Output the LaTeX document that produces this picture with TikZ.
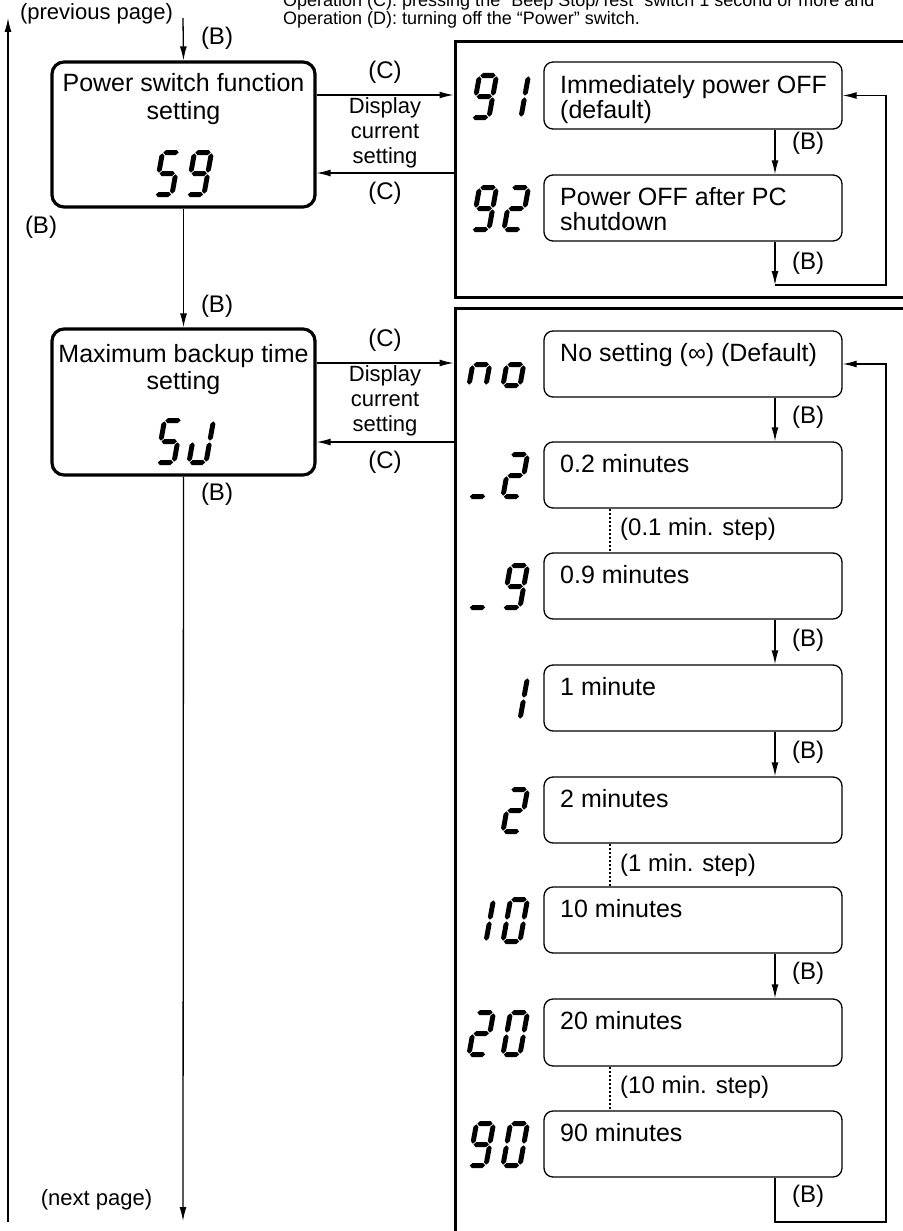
\documentclass[tikz,border=0pt]{standalone}
\usepackage{fontspec}
\setmainfont{Liberation Sans}
\usetikzlibrary{arrows.meta,calc}

% seven-segment segments (local coords, pt, y up)
\newcommand\ssega{(3.3,44.5) -- (5.8,47) -- (16.2,47) -- (18.7,44.5) -- (16.2,42) -- (5.8,42) -- cycle}
\newcommand\ssegg{(3.3,23.5) -- (5.8,26) -- (16.2,26) -- (18.7,23.5) -- (16.2,21) -- (5.8,21) -- cycle}
\newcommand\ssegd{(3.3,2.5) -- (5.8,5) -- (16.2,5) -- (18.7,2.5) -- (16.2,0) -- (5.8,0) -- cycle}
\newcommand\ssegf{(2.5,24.3) -- (5,26.8) -- (5,41.2) -- (2.5,43.7) -- (0,41.2) -- (0,26.8) -- cycle}
\newcommand\ssege{(2.5,3.3) -- (5,5.8) -- (5,20.2) -- (2.5,22.7) -- (0,20.2) -- (0,5.8) -- cycle}
\newcommand\ssegb{(19.5,24.3) -- (22,26.8) -- (22,41.2) -- (19.5,43.7) -- (17,41.2) -- (17,26.8) -- cycle}
\newcommand\ssegc{(19.5,3.3) -- (22,5.8) -- (22,20.2) -- (19.5,22.7) -- (17,20.2) -- (17,5.8) -- cycle}
\newcommand\ssdigit[3]{%
  \begin{scope}[shift={(#1,#2)},y=1pt,xslant=0.18]
    \foreach \s in {#3}{\fill \csname sseg\s\endcsname;}
  \end{scope}}

\tikzset{
  bigbox/.style={draw, line width=3.2pt, rounded corners=12pt, minimum width=263pt, inner sep=0},
  optbox/.style={draw, line width=1.3pt, rounded corners=9pt, minimum width=298pt, minimum height=66pt, inner sep=0},
  framebox/.style={draw, line width=3pt, inner sep=0},
  conn/.style={line width=1.3pt},
  arr/.style={conn, -{Latex[length=14pt,width=7pt]}},
  dotline/.style={line width=2pt, dash pattern=on 2pt off 2pt},
  boxtxt/.style={font=\fontsize{25}{27}\selectfont, inner sep=0, anchor=base west},
  ctxt/.style={font=\fontsize{25}{27}\selectfont, inner sep=0, anchor=base},
  lbl/.style={font=\fontsize{24}{26}\selectfont, inner sep=0},
  smalltxt/.style={font=\fontsize{22}{25}\selectfont, inner sep=0, align=center},
  toptxt/.style={font=\fontsize{18}{19}\selectfont, inner sep=0, anchor=base west},
}

\begin{document}
\begin{tikzpicture}[x=1pt,y=-1pt]
\useasboundingbox (0,0) rectangle (902,1231);

% top notes
\node[toptxt] (note1) at (283,7) {Operation (C): pressing the “Beep Stop/Test” switch 1 second or more and};
\node[toptxt] (note2) at (283,25) {Operation (D): turning off the “Power” switch.};

% frames
\node[framebox, minimum width=455pt, minimum height=255pt] (fr1) at (682.5,169.5) {};
\node[framebox, minimum width=455pt, minimum height=932pt] (fr2) at (682.5,774) {};

% left boxes
\node[bigbox, minimum height=145pt] (box1) at (183.5,134.5) {};
\node[bigbox, minimum height=146pt] (box2) at (183.5,402) {};
\node[ctxt] (box1a) at (183.5,92) {Power switch function};
\node[ctxt] (box1b) at (183.5,119) {setting};
\node[ctxt] (box2a) at (183.5,362) {Maximum backup time};
\node[ctxt] (box2b) at (183.5,389) {setting};
\ssdigit{152}{197}{a,f,g,c,d}
\ssdigit{184}{197}{a,b,c,d,f,g}
\ssdigit{154}{465}{a,f,g,c,d}
\ssdigit{186}{465}{b,c,d,e}

% frame 1 options
\node[optbox, minimum height=67pt] (o91) at (693,95.5) {};
\node[optbox] (o92) at (693,208) {};
\node[boxtxt] (o91a) at (560,93) {Immediately power OFF};
\node[boxtxt] (o91b) at (560,118) {(default)};
\node[boxtxt] (o92a) at (560,205) {Power OFF after PC};
\node[boxtxt] (o92b) at (560,230) {shutdown};
\ssdigit{469}{120}{a,b,c,d,f,g}
\ssdigit{501}{120}{b,c}
\ssdigit{469}{232}{a,b,c,d,f,g}
\ssdigit{501}{232}{a,b,g,e,d}

% frame 2 options
\node[optbox] (n0) at (693,364) {};
\node[optbox] (n1) at (693,475) {};
\node[optbox] (n2) at (693,586) {};
\node[optbox] (n3) at (693,698) {};
\node[optbox] (n4) at (693,810) {};
\node[optbox] (n5) at (693,920) {};
\node[optbox, minimum height=67pt] (n6) at (693,1032.5) {};
\node[optbox] (n7) at (693,1144) {};
\node[boxtxt] (t0) at (560,361) {No setting (∞) (Default)};
\node[boxtxt] (t1) at (560,472) {0.2 minutes};
\node[boxtxt] (t2) at (560,583) {0.9 minutes};
\node[boxtxt] (t3) at (560,695) {1 minute};
\node[boxtxt] (t4) at (560,807) {2 minutes};
\node[boxtxt] (t5) at (560,917) {10 minutes};
\node[boxtxt] (t6) at (560,1029) {20 minutes};
\node[boxtxt] (t7) at (560,1141) {90 minutes};
% digits
\ssdigit{466}{388}{e,g,c}
\ssdigit{500}{388}{c,d,e,g}
\ssdigit{466}{499}{d}
\ssdigit{500}{499}{a,b,g,e,d}
\ssdigit{466}{610}{d}
\ssdigit{500}{610}{a,b,c,d,f,g}
\ssdigit{500}{722}{b,c}
\ssdigit{500}{834}{a,b,g,e,d}
\ssdigit{466}{944}{b,c}
\ssdigit{500}{944}{a,b,c,d,e,f}
\ssdigit{466}{1057}{a,b,g,e,d}
\ssdigit{500}{1057}{a,b,c,d,e,f}
\ssdigit{466}{1168}{a,b,c,d,f,g}
\ssdigit{500}{1168}{a,b,c,d,e,f}

% coordinates
\coordinate (prevtop) at (183,18);
\coordinate (lefttop) at (8,18);
\coordinate (leftbot) at (8,1222);
\coordinate (nextend) at (183,1221);
\coordinate (c1) at (0,95);
\coordinate (c2) at (0,173);
\coordinate (c3) at (0,363);
\coordinate (c4) at (0,442);
\coordinate (rx) at (775,0);
\coordinate (dx) at (610,0);
\coordinate (rr) at (886,0);
\coordinate (lp1) at (775,285);
\coordinate (lp2) at (775,1222);

% left side connectors
\draw[arr] (leftbot) -- (lefttop);
\draw[arr] (prevtop) -- (box1.north);
\draw[arr] (box1.south) -- (box2.north);
\draw[arr] (box2.south) -- (nextend);
\draw[arr] (box1.east |- c1) -- (fr1.west |- c1);
\draw[arr] (fr1.west |- c2) -- (box1.east |- c2);
\draw[arr] (box2.east |- c3) -- (fr2.west |- c3);
\draw[arr] (fr2.west |- c4) -- (box2.east |- c4);

% frame 1 connectors
\draw[arr] (o91.south -| rx) -- (o92.north -| rx);
\draw[arr] (o92.south -| rx) -- (lp1);
\draw[arr] (lp1) -| (rr |- o91.east) -- (o91.east);

% frame 2 connectors
\draw[arr] (n0.south -| rx) -- (n1.north -| rx);
\draw[dotline] (n1.south -| dx) -- (n2.north -| dx);
\draw[arr] (n2.south -| rx) -- (n3.north -| rx);
\draw[arr] (n3.south -| rx) -- (n4.north -| rx);
\draw[dotline] (n4.south -| dx) -- (n5.north -| dx);
\draw[arr] (n5.south -| rx) -- (n6.north -| rx);
\draw[dotline] (n6.south -| dx) -- (n7.north -| dx);
\draw[arr] (n7.south -| rx) -- (lp2) -| (rr |- n0.east) -- (n0.east);

% labels
\node[smalltxt] (prevpage) at (96.5,14) {(previous page)};
\node[smalltxt] (nextpage) at (96.5,1200) {(next page)};
\node[lbl] (bl0) at (217,38) {(B)};
\node[lbl] (bl1) at (41,227) {(B)};
\node[lbl] (bl2) at (217,306) {(B)};
\node[lbl] (bl3) at (217,494) {(B)};
\node[lbl] (cl1) at (385,72) {(C)};
\node[lbl] (cl2) at (385,193) {(C)};
\node[lbl] (cl3) at (385,340) {(C)};
\node[lbl] (cl4) at (385,462) {(C)};
\node[smalltxt] (disp1) at (385,133) {Display\\current\\setting};
\node[smalltxt] (disp2) at (385,401) {Display\\current\\setting};

\node[lbl, anchor=west] (fb1) at (792,143) {(B)};
\node[lbl, anchor=west] (fb2) at (792,263) {(B)};
\node[lbl, anchor=west] (gb0) at (792,417) {(B)};
\node[lbl, anchor=west] (gb2) at (792,640) {(B)};
\node[lbl, anchor=west] (gb3) at (792,752) {(B)};
\node[lbl, anchor=west] (gb5) at (792,973) {(B)};
\node[lbl, anchor=west] (gb7) at (792,1196) {(B)};
\node[lbl, anchor=west] (st1) at (620,529) {(0.1 min. step)};
\node[lbl, anchor=west] (st2) at (620,865) {(1 min. step)};
\node[lbl, anchor=west] (st3) at (620,1087) {(10 min. step)};
\end{tikzpicture}
\end{document}
